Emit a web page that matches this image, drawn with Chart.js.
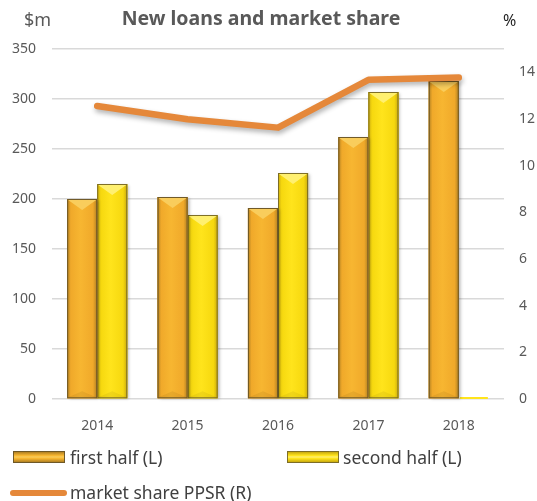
<!DOCTYPE html>
<html>
<head>
<meta charset="utf-8">
<script src="https://cdn.jsdelivr.net/npm/chart.js@4/dist/chart.umd.min.js"></script>
<style>
  html, body { margin:0; padding:0; background:#fff; }
  #wrap { position:relative; width:537px; height:501px; font-family:"Noto Sans", sans-serif; overflow:hidden; }
  #c { position:absolute; left:0; top:0; }
  .t { position:absolute; white-space:nowrap; }
  .sw { position:absolute; box-sizing:border-box; }
</style>
</head>
<body>
<div id="wrap">
  <canvas id="c" width="537" height="501"></canvas>
  <div class="t" style="left:0;width:522px;text-align:center;top:6px;line-height:24px;font-size:19.5px;font-weight:bold;color:#595959;">New loans and market share</div>
  <div class="t" style="left:24px;top:7px;line-height:24px;font-size:18px;color:#595959;">$m</div>
  <div class="t" style="left:503px;top:8px;line-height:24px;font-size:16px;color:#262626;">%</div>
  <div id="legend"></div>
</div>
<script>
// ---- data ----
const categories = ['2014', '2015', '2016', '2017', '2018'];
const firstHalf  = [200, 202, 191, 262, 318];
const secondHalf = [215, 184, 226, 307, 0];
const marketShare = [12.56, 11.99, 11.63, 13.68, 13.78];
const seriesNames = ['first half (L)', 'second half (L)', 'market share PPSR (R)'];
const leftAxis  = { min: 0, max: 350, step: 50 };
const rightAxis = { min: 0, max: 15, step: 2 };

// ---- styles ----
const palettes = [
  { edge:'#B08022', mid:'#F0A92A', center:'#F7B631', bevel:'#F9CD5C', dark:'rgba(120,80,10,0.12)', border:'rgba(105,85,40,0.95)' },
  { edge:'#C9AA0E', mid:'#F6D80F', center:'#FFE41C', bevel:'#FFF070', dark:'rgba(120,100,0,0.10)', border:'rgba(120,105,40,0.95)' }
];
const lineColor = '#E5883A';
const tickColor = '#595959';
const gridColor = '#D9D9D9';

const barSkin = {
  id: 'barSkin',
  beforeDatasetDraw(chart, args) {
    if (args.meta.type === 'line') {
      const ctx = chart.ctx;
      ctx.save();
      ctx.shadowColor = 'rgba(0,0,0,0.3)';
      ctx.shadowBlur = 5;
      ctx.shadowOffsetX = 1;
      ctx.shadowOffsetY = 3;
    }
  },
  afterDatasetDraw(chart, args) {
    const meta = args.meta;
    const ctx = chart.ctx;
    if (meta.type === 'line') { ctx.restore(); return; }
    if (meta.type !== 'bar') return;
    const pal = palettes[args.index];
    ctx.save();
    meta.data.forEach(el => {
      const p = el.getProps(['x', 'y', 'base', 'width'], true);
      const w = p.width, l = p.x - w / 2, r = p.x + w / 2;
      const t = Math.min(p.y, p.base), b = Math.max(p.y, p.base);
      const h = b - t;
      if (h < 1) {
        ctx.fillStyle = pal.center;
        ctx.fillRect(l + 1, b - 2, w - 2, 2);
        return;
      }
      ctx.save();
      ctx.shadowColor = 'rgba(0,0,0,0.28)';
      ctx.shadowBlur = 3; ctx.shadowOffsetX = 2; ctx.shadowOffsetY = 1;
      ctx.fillStyle = pal.mid;
      ctx.fillRect(l, t, w, h);
      ctx.restore();
      const g = ctx.createLinearGradient(l, 0, r, 0);
      g.addColorStop(0, pal.edge);
      g.addColorStop(0.12, pal.mid);
      g.addColorStop(0.45, pal.center);
      g.addColorStop(0.86, pal.mid);
      g.addColorStop(1, pal.edge);
      ctx.fillStyle = g;
      ctx.fillRect(l, t, w, h);
      const bv = Math.min(11, h / 2);
      // top bevel
      ctx.beginPath();
      ctx.moveTo(l + 1, t + 1); ctx.lineTo(r - 1, t + 1); ctx.lineTo(p.x, t + bv); ctx.closePath();
      ctx.fillStyle = pal.bevel; ctx.fill();
      // bottom bevel
      const bb = Math.min(7, h / 3);
      ctx.beginPath();
      ctx.moveTo(l + 1, b - 1); ctx.lineTo(r - 1, b - 1); ctx.lineTo(p.x, b - bb); ctx.closePath();
      ctx.fillStyle = pal.dark; ctx.fill();
      ctx.lineWidth = 1;
      ctx.strokeStyle = pal.border;
      ctx.strokeRect(l + 0.5, t + 0.5, w - 1, h - 1);
    });
    ctx.restore();
  }
};

const FONT = '"Noto Sans", sans-serif';

new Chart(document.getElementById('c'), {
  data: {
    labels: categories,
    datasets: [
      { type: 'bar', label: seriesNames[0], data: firstHalf, yAxisID: 'y', order: 1,
        backgroundColor: palettes[0].mid, borderWidth: 0,
        categoryPercentage: 0.665, barPercentage: 1.0 },
      { type: 'bar', label: seriesNames[1], data: secondHalf, yAxisID: 'y', order: 1,
        backgroundColor: palettes[1].mid, borderWidth: 0,
        categoryPercentage: 0.665, barPercentage: 1.0 },
      { type: 'line', label: seriesNames[2], data: marketShare, yAxisID: 'y1', order: 0,
        borderColor: lineColor, borderWidth: 6.5, pointRadius: 0, tension: 0,
        borderCapStyle: 'round', borderJoinStyle: 'round', fill: false }
    ]
  },
  options: {
    responsive: false,
    animation: false,
    layout: { padding: { top: 49, left: 0, right: 0, bottom: 0 } },
    plugins: { legend: { display: false }, title: { display: false }, tooltip: { enabled: false } },
    scales: {
      x: {
        grid: { display: false }, border: { display: false },
        ticks: { color: tickColor, font: { family: FONT, size: 14 }, padding: 11, maxRotation: 0 },
        afterFit(s) { s.height = 102; }
      },
      y: {
        position: 'left', min: leftAxis.min, max: leftAxis.max,
        grid: { color: gridColor, lineWidth: 1.5, drawTicks: false }, border: { display: false },
        ticks: { stepSize: leftAxis.step, color: tickColor, font: { family: FONT, size: 14 }, padding: 16 },
        afterFit(s) { s.width = 52; }
      },
      y1: {
        position: 'right', min: rightAxis.min, max: rightAxis.max,
        grid: { display: false, drawTicks: false }, border: { display: false },
        ticks: { stepSize: rightAxis.step, includeBounds: false, color: tickColor, font: { family: FONT, size: 14 }, padding: 15 },
        afterFit(s) { s.width = 33; }
      }
    }
  },
  plugins: [barSkin]
});

// ---- legend (HTML, real text) ----
const leg = document.getElementById('legend');
function addText(txt, x, cy) {
  const d = document.createElement('div');
  d.className = 't';
  d.style.cssText = `left:${x}px;top:${cy - 11}px;line-height:22px;font-size:17.5px;color:#404040;`;
  d.textContent = txt;
  leg.appendChild(d);
}
function addBarSwatch(pal, x, cy) {
  const d = document.createElement('div');
  d.className = 'sw';
  d.style.cssText = `left:${x}px;top:${cy - 6}px;width:52px;height:12px;border:1px solid ${pal.border};` +
    `background:linear-gradient(to bottom, ${pal.edge} 0%, ${pal.center} 35%, ${pal.bevel} 50%, ${pal.center} 65%, ${pal.edge} 100%);`;
  leg.appendChild(d);
}
function addLineSwatch(x, cy) {
  const d = document.createElement('div');
  d.className = 'sw';
  d.style.cssText = `left:${x}px;top:${cy - 3}px;width:57px;height:6px;border-radius:3px;background:${lineColor};`;
  leg.appendChild(d);
}
addBarSwatch(palettes[0], 13, 457); addText(seriesNames[0], 70, 457);
addBarSwatch(palettes[1], 287, 457); addText(seriesNames[1], 343, 457);
addLineSwatch(10, 493); addText(seriesNames[2], 70, 492);
</script>
</body>
</html>
